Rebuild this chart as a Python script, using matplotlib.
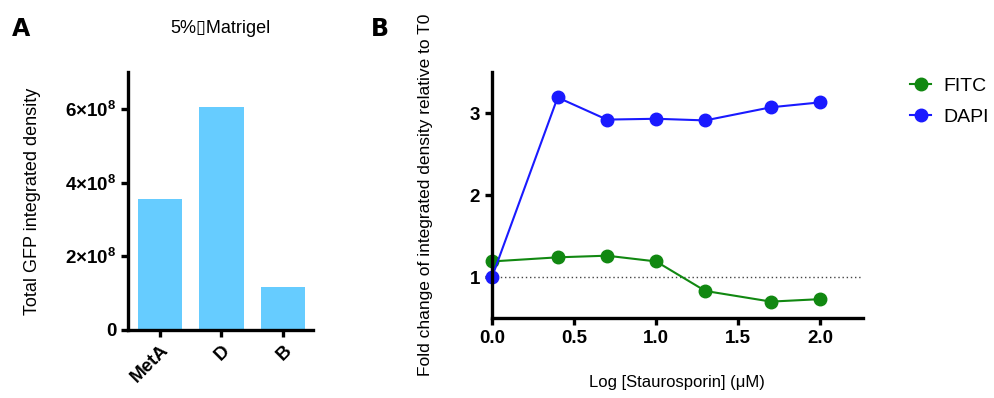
import matplotlib
matplotlib.use('Agg')
import matplotlib.pyplot as plt

plt.rcParams['font.family'] = ['Liberation Sans', 'DejaVu Sans']
plt.rcParams['mathtext.fontset'] = 'custom'
plt.rcParams['mathtext.rm'] = 'Liberation Sans'
plt.rcParams['mathtext.bf'] = 'Liberation Sans:bold'

# panel A: total GFP signal per line
lines = ['MetA', 'D', 'B']
gfp_density = [3.56e8, 6.05e8, 1.16e8]
gfp_ticks = [0, 2e8, 4e8, 6e8]
gfp_ticklabels = ['0', r'$\mathbf{2{\times}10^8}$', r'$\mathbf{4{\times}10^8}$', r'$\mathbf{6{\times}10^8}$']

# panel B: fold change vs log staurosporine dose
log_dose = [0.0, 0.4, 0.7, 1.0, 1.3, 1.7, 2.0]
fitc = [1.19, 1.24, 1.26, 1.19, 0.83, 0.70, 0.73]
dapi = [1.00, 3.19, 2.92, 2.93, 2.91, 3.07, 3.13]

fig = plt.figure(figsize=(9.94, 3.98), dpi=100)

def style_axes(ax):
    for s in ['top', 'right']:
        ax.spines[s].set_visible(False)
    for s in ['left', 'bottom']:
        ax.spines[s].set_linewidth(2.4)
    ax.tick_params(width=2.4, length=5, labelsize=13.5)
    for lab in ax.get_xticklabels() + ax.get_yticklabels():
        lab.set_fontweight('bold')

# ---- A ----
axA = fig.add_axes([0.1288, 0.1709, 0.1861, 0.648])
axA.bar(range(len(lines)), gfp_density, width=0.72, color='#66ccff')
axA.set_xlim(-0.52, 2.49)
axA.set_ylim(0, 7e8)
axA.set_yticks(gfp_ticks)
axA.set_yticklabels(gfp_ticklabels)
axA.set_xticks(range(len(lines)))
axA.set_xticklabels(lines, rotation=45, ha='right', rotation_mode='anchor')
axA.set_ylabel('Total GFP integrated density', fontsize=13)
axA.yaxis.set_label_coords(-0.47, 0.5)
style_axes(axA)
axA.set_title('5%\u25afMatrigel', fontsize=13, pad=28, x=0.5)
fig.text(0.012, 0.91, 'A', fontsize=17, fontweight='bold', family='DejaVu Sans')

# ---- B ----
axB = fig.add_axes([0.495, 0.201, 0.373, 0.618])
axB.axhline(1, color='#444444', linestyle=(0, (1, 2)), linewidth=1.0)
axB.plot(log_dose, fitc, color='#118811', marker='o', markersize=9, linewidth=1.5, label='FITC')
axB.plot(log_dose, dapi, color='#1a1aff', marker='o', markersize=9, linewidth=1.5, label='DAPI')
axB.set_xlim(0, 2.26)
axB.set_ylim(0.5, 3.5)
axB.set_xticks([0.0, 0.5, 1.0, 1.5, 2.0])
axB.set_xticklabels(['0.0', '0.5', '1.0', '1.5', '2.0'])
axB.set_yticks([1, 2, 3])
axB.set_xlabel('Log [Staurosporin] (\u03bcM)', fontsize=12, labelpad=20)
axB.set_ylabel('Fold change of integrated density relative to T0', fontsize=12.5)
axB.yaxis.set_label_coords(-0.16, 0.5)
style_axes(axB)
for ln in axB.get_lines()[1:]:
    ln.set_clip_on(False)
axB.legend(loc='upper left', bbox_to_anchor=(1.08, 1.05), frameon=False, fontsize=14,
           handlelength=1.1, handletextpad=0.6, labelspacing=0.7)
fig.text(0.373, 0.91, 'B', fontsize=17, fontweight='bold', family='DejaVu Sans')

fig.savefig('out.png', dpi=100)
